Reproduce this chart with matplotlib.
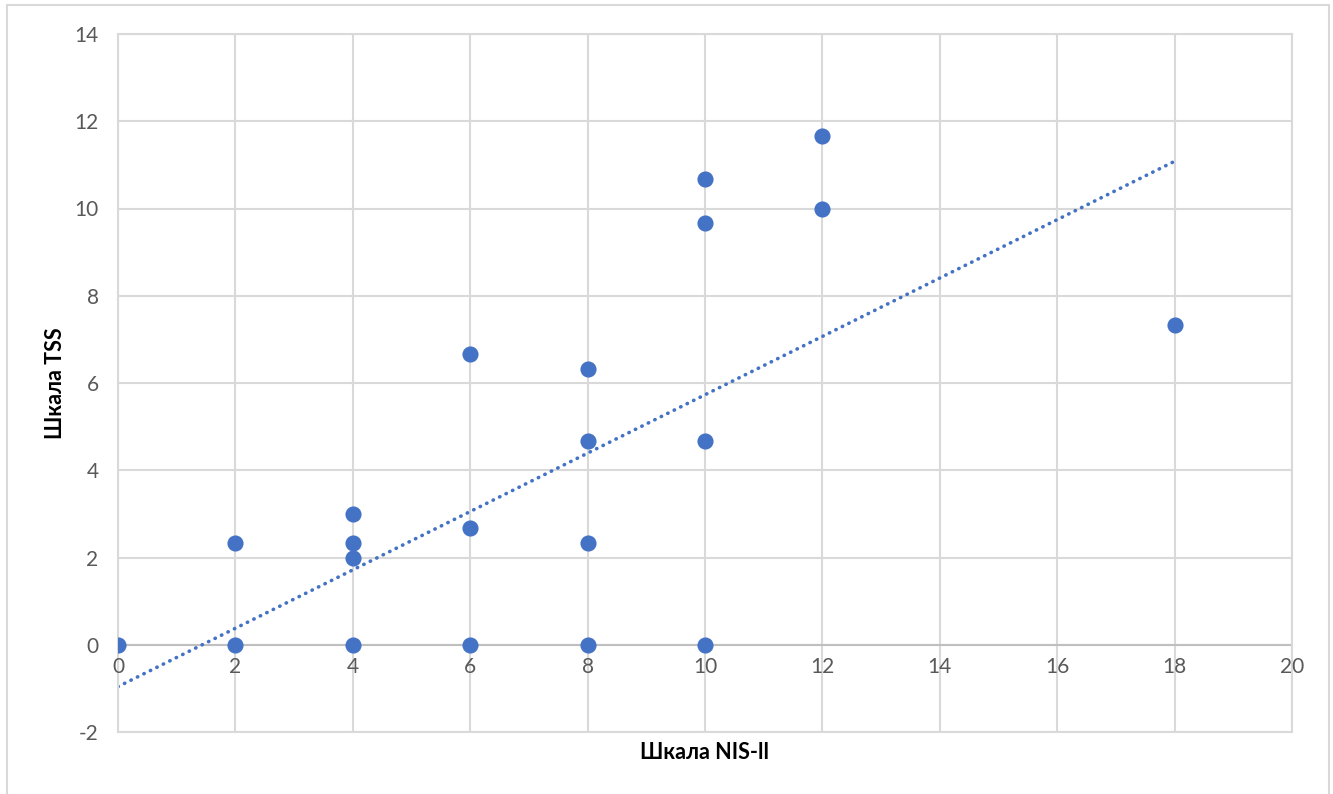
import matplotlib
matplotlib.use("Agg")
import matplotlib.pyplot as plt
from matplotlib.patches import Rectangle

# NIS-II score vs TSS score per patient
nis_scores = [0, 2, 2, 4, 4, 4, 4, 6, 6, 6, 8, 8, 8, 8, 10, 10, 10, 10, 12, 12, 18]
tss_scores = [0, 2.33, 0, 3, 2.33, 2, 0, 6.67, 2.67, 0, 6.33, 4.67, 2.33, 0,
              10.67, 9.67, 4.67, 0, 11.67, 10, 7.33]

# Linear trend line (slope, intercept) over the NIS-II range
trend_slope = 0.669
trend_intercept = -0.96
trend_x = [0, 18]

x_ticks = [0, 2, 4, 6, 8, 10, 12, 14, 16, 18, 20]
y_ticks = [-2, 0, 2, 4, 6, 8, 10, 12, 14]

x_label = "Шкала NIS-ll"
y_label = "Шкала TSS"

blue = "#4472C4"
grid_col = "#D9D9D9"
tick_col = "#595959"

plt.rcParams["font.family"] = ["Lato", "DejaVu Sans"]
plt.rcParams["axes.unicode_minus"] = False

fig = plt.figure(figsize=(13.33, 7.94), dpi=100)
# chart frame, open at the bottom edge of the image
fig.patches.append(Rectangle((7 / 1333, -0.05), 1322 / 1333, 1.05 - 5 / 794,
                             transform=fig.transFigure, fill=False,
                             edgecolor=grid_col, linewidth=1.5))

ax = fig.add_axes([118 / 1333, 1 - 732 / 794, (1292 - 118) / 1333, (732 - 34) / 794])
ax.set_xlim(x_ticks[0], x_ticks[-1])
ax.set_ylim(y_ticks[0], y_ticks[-1])
ax.set_xticks(x_ticks)
ax.set_yticks(y_ticks)
ax.grid(True, color=grid_col, linewidth=1.5, zorder=0)
ax.set_axisbelow(True)
for s in ax.spines.values():
    s.set_color(grid_col)
    s.set_linewidth(1.5)
ax.tick_params(length=0)
ax.tick_params(axis="y", labelsize=15, labelcolor=tick_col, pad=14)
ax.set_xticklabels([])

# horizontal axis crosses at y = 0, so its labels sit under that line
for t in x_ticks:
    ax.annotate(str(t), (t, 0), xytext=(0, -9), textcoords="offset points",
                ha="center", va="top", fontsize=15, color=tick_col)
ax.axhline(0, color="#BFBFBF", linewidth=1.5, zorder=1)

ax.scatter(nis_scores, tss_scores, s=135, color=blue, zorder=3, linewidths=0)

trend_y = [trend_slope * x + trend_intercept for x in trend_x]
ax.plot(trend_x, trend_y, color=blue, linewidth=2.6,
        linestyle=(0, (0.1, 1.9)), dash_capstyle="round", zorder=2)

ax.set_xlabel(x_label, fontsize=15.5, fontweight="bold", labelpad=4)
ax.set_ylabel(y_label, fontsize=15.5, fontweight="bold", labelpad=6)

fig.savefig("out.png", dpi=100)
